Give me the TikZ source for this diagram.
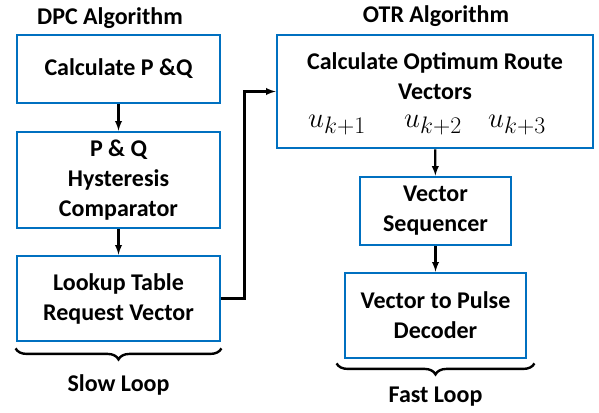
\documentclass[tikz,border=0pt]{standalone}
\usepackage{fontspec}
\setmainfont{Carlito}
\usepackage{graphicx}
\usepackage{tikz}
\usetikzlibrary{decorations.pathreplacing}
\definecolor{boxblue}{RGB}{0,112,192}
\newcommand{\uvector}[1]{\scalebox{1.15}{$u_{k+#1}$}}

\begin{document}
\begin{tikzpicture}[x=1pt,y=-1pt,
  block/.style={rectangle,draw=boxblue,line width=2.8pt,align=center,
    font=\fontsize{24}{30}\selectfont\bfseries},
  plain/.style={align=center,font=\fontsize{24}{30}\selectfont\bfseries},
  uvec/.style={inner sep=0pt,anchor=base,font=\fontsize{24.88}{30}\selectfont},
  loopbrace/.style={decorate,decoration={brace,mirror,amplitude=11pt},line width=2.4pt},
  flow/.style={->,>=latex,line width=2.2pt}]
\useasboundingbox (0,0) rectangle (599,412);
% DPC side
\node [plain] (dpctitle) at (110,18) {DPC Algorithm};
\node [block,minimum width=203,minimum height=68] (calcpq) at (118.5,69) {Calculate P \&Q};
\node [block,minimum width=203,minimum height=96] (hyst) at (118.5,180) {P \& Q\\Hysteresis\\Comparator};
\node [block,minimum width=203,minimum height=85] (lookup) at (118.5,298.5) {Lookup Table\\Request Vector};
\draw [flow] (calcpq) -- (hyst);
\draw [flow] (hyst) -- (lookup);
\draw [loopbrace] ([yshift=-6]lookup.south west) -- ([yshift=-6]lookup.south east);
\node [plain] (slow) at (118.5,385) {Slow Loop};
% OTR side
\node [plain] (otrtitle) at (436,16) {OTR Algorithm};
\node [block,minimum width=316,minimum height=113] (otr) at (435,91.5) {};
\node [plain,inner sep=0pt] (otrtext) at (435,76) {Calculate Optimum Route\\Vectors};
\node [uvec] (uone) at (337,127) {\uvector{1}};
\node [uvec] (utwo) at (433,127) {\uvector{2}};
\node [uvec] (uthree) at (517,127) {\uvector{3}};
\node [block,minimum width=151,minimum height=68] (seq) at (435.5,211) {Vector\\Sequencer};
\node [block,minimum width=181,minimum height=85] (decoder) at (435.5,315.5) {Vector to Pulse\\Decoder};
\draw [flow] (otr) -- (seq);
\draw [flow] (seq) -- (decoder);
\draw [loopbrace] ([xshift=-7,yshift=-4]decoder.south west) -- ([xshift=7,yshift=-4]decoder.south east);
\node [plain] (fast) at (435.5,397) {Fast Loop};
% link between the two
\draw [flow] (lookup.east) -- ++(23,0) |- (otr.west);
\end{tikzpicture}
\end{document}
